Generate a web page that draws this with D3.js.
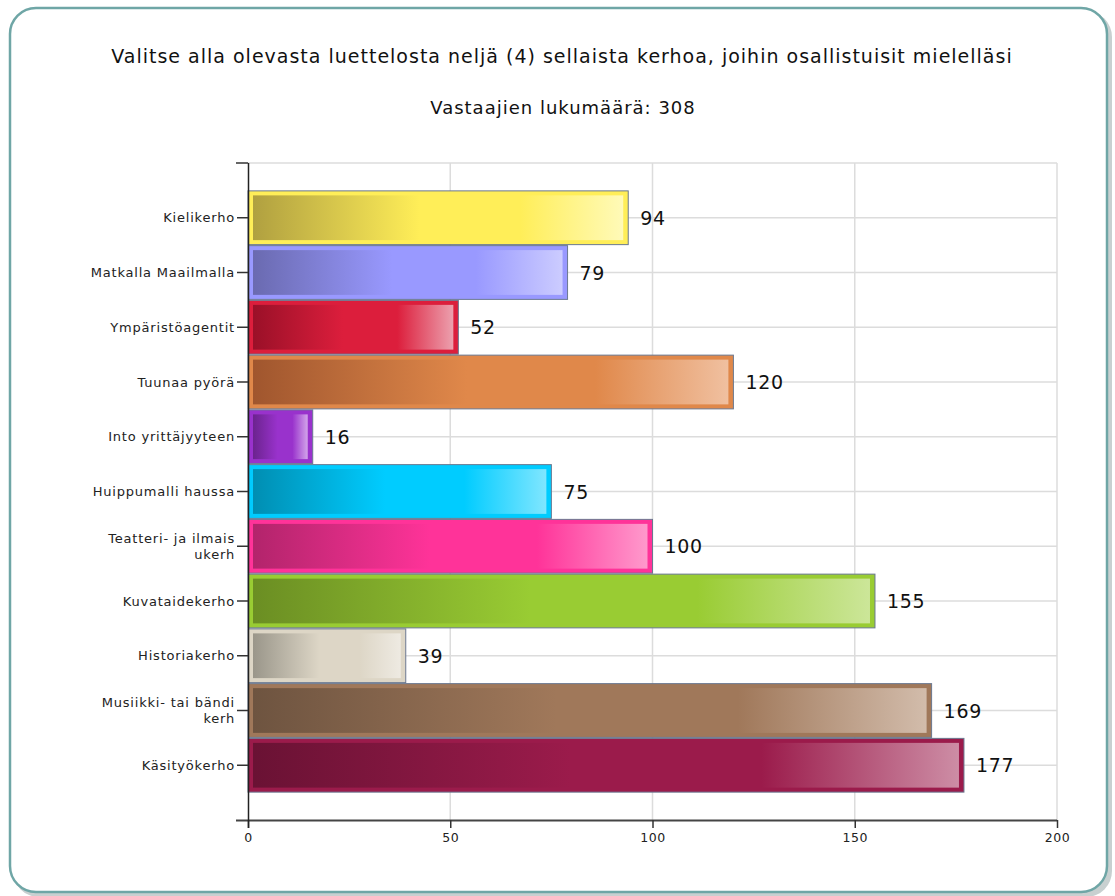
<!DOCTYPE html>
<html>
<head>
<meta charset="utf-8">
<script src="https://cdn.jsdelivr.net/npm/d3@7"></script>
<style>
  html, body { margin: 0; padding: 0; background: #fff; }
  svg { display: block; font-family: Verdana, "DejaVu Sans", sans-serif; }
</style>
</head>
<body>
<svg id="chart" width="1115" height="896"></svg>
<script>
const title = "Valitse alla olevasta luettelosta neljä (4) sellaista kerhoa, joihin osallistuisit mielelläsi";
const subtitle = "Vastaajien lukumäärä: 308";
const categories = [
  "Kielikerho",
  "Matkalla Maailmalla",
  "Ympäristöagentit",
  "Tuunaa pyörä",
  "Into yrittäjyyteen",
  "Huippumalli haussa",
  "Teatteri- ja ilmais\nukerh",
  "Kuvataidekerho",
  "Historiakerho",
  "Musiikki- tai bändi\nkerh",
  "Käsityökerho"
];
const values = [94, 79, 52, 120, 16, 75, 100, 155, 39, 169, 177];
const baseColors = ["#ffee58", "#9999ff", "#dc1e3c", "#e0884a", "#9932cc", "#00ccff", "#ff3399", "#99cc33", "#ddd6c6", "#a0785a", "#9b1b4b"];
const darkColors = ["#b0a040", "#6a6ab0", "#9a1028", "#a0562e", "#6b238e", "#008eb2", "#b2246b", "#6b8e23", "#9a968a", "#6e5440", "#6a1234"];
const lightColors = ["#fffab8", "#ccccff", "#eca0ae", "#f0c0a0", "#d2a4ea", "#80e6ff", "#ff99cc", "#cce699", "#eeeae2", "#d2bcab", "#cd8da5"];
const xTicks = [0, 50, 100, 150, 200];

const FONT = 'Verdana, "DejaVu Sans", sans-serif';
const svg = d3.select("#chart");
const defs = svg.append("defs");

// frame with shadow
svg.append("rect").attr("x", 13).attr("y", 11).attr("width", 1099).attr("height", 886)
  .attr("rx", 26).attr("fill", "#c8d0d0");
svg.append("rect").attr("x", 10).attr("y", 8).attr("width", 1097).attr("height", 884)
  .attr("rx", 26).attr("fill", "#fff").attr("stroke", "#6fa6a6").attr("stroke-width", 2.5);

svg.append("text").attr("x", 562).attr("y", 63).attr("text-anchor", "middle")
  .attr("font-size", 19).attr("letter-spacing", 1).attr("fill", "#111").text(title);
svg.append("text").attr("x", 563).attr("y", 114).attr("text-anchor", "middle")
  .attr("font-size", 18).attr("letter-spacing", 1).attr("fill", "#111").text(subtitle);

const pLeft = 248, pRight = 1057, pTop = 163, pBottom = 820;
const x = d3.scaleLinear().domain([0, 200]).range([pLeft, pRight]);
const y = d3.scaleBand().domain(categories).range([pTop, pBottom]).paddingInner(0).paddingOuter(0.5);
const bw = y.bandwidth();

// gridlines
const grid = svg.append("g");
grid.selectAll("line.v").data(xTicks.filter(d => d > 0)).join("line")
  .attr("x1", d => x(d)).attr("x2", d => x(d)).attr("y1", pTop).attr("y2", pBottom)
  .attr("stroke", "#dcdcdc").attr("stroke-width", 1.5);
grid.selectAll("line.h").data(categories).join("line")
  .attr("x1", pLeft).attr("x2", pRight)
  .attr("y1", d => y(d) + bw / 2).attr("y2", d => y(d) + bw / 2)
  .attr("stroke", "#dcdcdc").attr("stroke-width", 1.5);
grid.append("line").attr("x1", pLeft).attr("x2", pRight).attr("y1", pTop).attr("y2", pTop)
  .attr("stroke", "#dcdcdc").attr("stroke-width", 1.5);

// gradients
categories.forEach((c, i) => {
  const g = defs.append("linearGradient").attr("id", "g" + i)
    .attr("x1", "0%").attr("x2", "100%").attr("y1", "0%").attr("y2", "0%");
  g.append("stop").attr("offset", "0%").attr("stop-color", darkColors[i]);
  g.append("stop").attr("offset", "45%").attr("stop-color", baseColors[i]);
  g.append("stop").attr("offset", "72%").attr("stop-color", baseColors[i]);
  g.append("stop").attr("offset", "100%").attr("stop-color", lightColors[i]);
});

const bars = svg.append("g").selectAll("g").data(categories).join("g");
bars.append("rect")
  .attr("x", x(0)).attr("y", d => y(d) + 0.5)
  .attr("width", (d, i) => x(values[i]) - x(0)).attr("height", bw - 1)
  .attr("fill", (d, i) => baseColors[i]).attr("stroke", "#6a7890").attr("stroke-width", 1);
bars.append("rect")
  .attr("x", x(0) + 5).attr("y", d => y(d) + 5)
  .attr("width", (d, i) => Math.max(0, x(values[i]) - x(0) - 10)).attr("height", bw - 10)
  .attr("fill", (d, i) => `url(#g${i})`);
bars.append("text")
  .attr("x", (d, i) => x(values[i]) + 12).attr("y", d => y(d) + bw / 2 + 7)
  .attr("font-size", 19).attr("letter-spacing", 0.7).attr("fill", "#111").text((d, i) => values[i]);

// axes
const xAxis = d3.axisBottom(x).tickValues(xTicks).tickSize(8).tickSizeOuter(0);
const gx = svg.append("g").attr("transform", `translate(0,${pBottom})`).call(xAxis);
gx.select(".domain").attr("d", `M${pLeft - 12},0.5H${pRight}`).attr("stroke", "#444").attr("stroke-width", 2);
gx.selectAll(".tick line").attr("stroke", "#333").attr("stroke-width", 1.5);
gx.selectAll(".tick text").attr("font-size", 12.5).attr("letter-spacing", 0.6)
  .attr("fill", "#222").attr("dy", "0.9em").style("font-family", FONT);

const yAxis = d3.axisLeft(y).tickSize(11).tickSizeOuter(0).tickFormat("");
const gy = svg.append("g").attr("transform", `translate(${pLeft},0)`).call(yAxis);
gy.select(".domain").attr("d", `M0.5,${pTop}V${pBottom + 8}`).attr("stroke", "#222").attr("stroke-width", 1.5);
gy.selectAll(".tick line").attr("stroke", "#333").attr("stroke-width", 1.5);
gy.append("line").attr("x1", -12).attr("x2", 0).attr("y1", pTop).attr("y2", pTop)
  .attr("stroke", "#333").attr("stroke-width", 1.5);
gy.selectAll(".tick").each(function(d) {
  const lines = d.split("\n");
  const t = d3.select(this).append("text")
    .attr("text-anchor", "end").attr("font-size", 13).attr("letter-spacing", 0.8)
    .attr("fill", "#222").style("font-family", FONT);
  lines.forEach((ln, k) => {
    t.append("tspan").attr("x", -13)
      .attr("y", (k - (lines.length - 1) / 2) * 16)
      .attr("dy", "0.35em").text(ln);
  });
});
</script>
</body>
</html>
